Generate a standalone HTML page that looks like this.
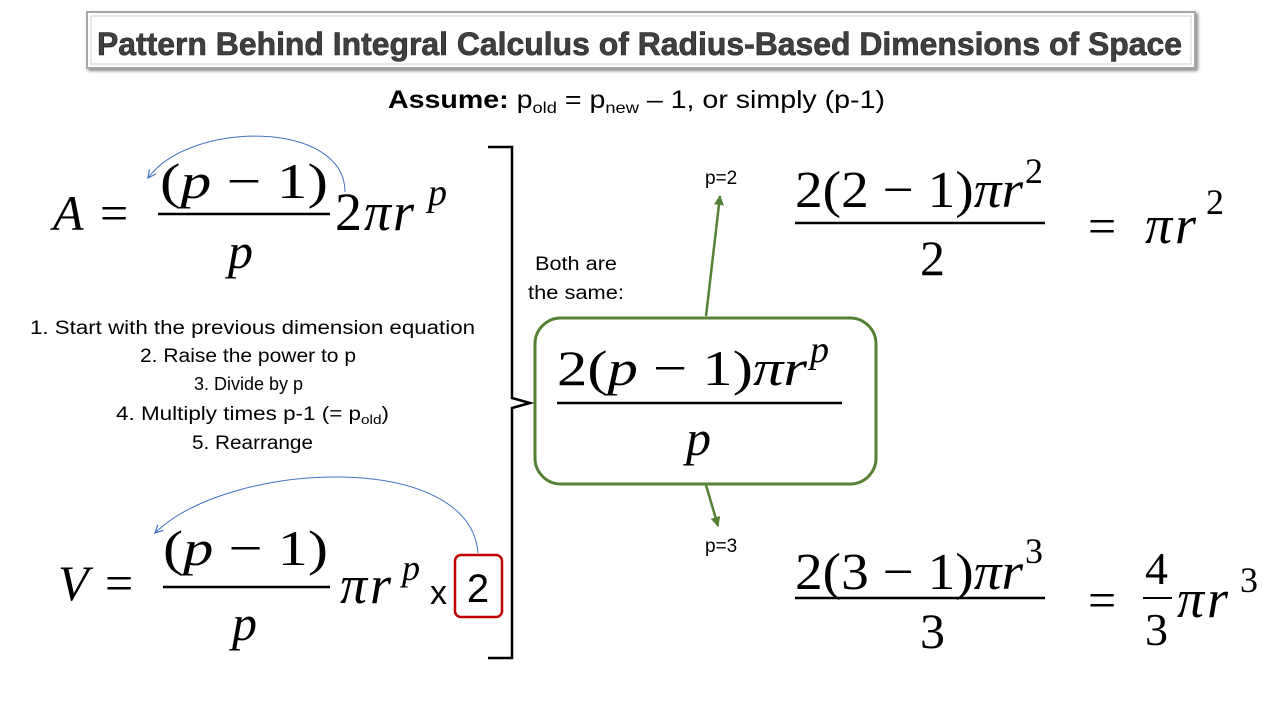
<!DOCTYPE html>
<html><head><meta charset="utf-8"><style>
html,body{margin:0;padding:0;background:#fff;}
svg{display:block;}
.m{font-family:"Liberation Serif",serif;fill:#000;}
.i{font-style:italic;}
.s{font-family:"Liberation Sans",sans-serif;fill:#000;}
</style></head><body>
<svg width="1280" height="720" viewBox="0 0 1280 720" xmlns="http://www.w3.org/2000/svg">
<defs>
<marker id="ab" markerWidth="10" markerHeight="10" refX="8" refY="5" orient="auto" markerUnits="userSpaceOnUse"><path d="M0,1 L8,5 L0,9" fill="none" stroke="#4472C4" stroke-width="1.2"/></marker>
<marker id="ag" markerWidth="12" markerHeight="12" refX="9" refY="6" orient="auto" markerUnits="userSpaceOnUse"><path d="M0,1 L10,6 L0,11 Z" fill="#548235"/></marker>
<filter id="sh"><feDropShadow dx="2" dy="2" stdDeviation="1.5" flood-color="#888"/></filter>
</defs>
<!-- title -->
<rect x="87" y="12" width="1108" height="56" fill="#fff" stroke="#a6a6a6" stroke-width="2" filter="url(#sh)"/>
<rect x="91" y="16" width="1100" height="48" fill="none" stroke="#d0d0d0" stroke-width="1"/>
<text x="97" y="55" class="s" font-size="32" font-weight="bold" style="fill:#404040" textLength="1085" lengthAdjust="spacingAndGlyphs" stroke="#222" stroke-width="0.6">Pattern Behind Integral Calculus of Radius-Based Dimensions of Space</text>
<!-- assume -->
<text x="388" y="108" class="s" font-size="25" textLength="497" lengthAdjust="spacingAndGlyphs"><tspan font-weight="bold">Assume:</tspan> p<tspan font-size="16" dy="5">old</tspan><tspan dy="-5"> = p</tspan><tspan font-size="16" dy="5">new</tspan><tspan dy="-5"> – 1, or simply (p-1)</tspan></text>

<!-- A equation -->
<text x="53" y="230" class="m i" font-size="50">A</text>
<text x="100" y="230" class="m" font-size="50">=</text>
<text x="160" y="198" class="m" font-size="50" textLength="168" lengthAdjust="spacingAndGlyphs">(<tspan class="i">p</tspan> − 1)</text>
<line x1="158" y1="214" x2="330" y2="214" stroke="#000" stroke-width="2.5"/>
<text x="228" y="268" class="m i" font-size="50">p</text>
<text x="335" y="230" class="m" font-size="54" letter-spacing="2">2<tspan class="i">πr</tspan></text>
<text x="428" y="205" class="m i" font-size="38">p</text>
<path d="M345,192 C345,120 190,120 148,178" fill="none" stroke="#4472C4" stroke-width="1" marker-end="url(#ab)"/>

<!-- steps -->
<g class="s" font-size="19">
<text x="30" y="334" textLength="445" lengthAdjust="spacingAndGlyphs">1. Start with the previous dimension equation</text>
<text x="140" y="362" textLength="216" lengthAdjust="spacingAndGlyphs">2. Raise the power to p</text>
<text x="194" y="390" font-size="18">3. Divide by p</text>
<text x="116" y="420" textLength="273" lengthAdjust="spacingAndGlyphs">4. Multiply times p-1 (= p<tspan font-size="13" dy="4">old</tspan><tspan dy="-4">)</tspan></text>
<text x="192" y="449" textLength="121" lengthAdjust="spacingAndGlyphs">5. Rearrange</text>
</g>

<!-- V equation -->
<text x="58" y="600" class="m i" font-size="50">V</text>
<text x="105" y="600" class="m" font-size="50">=</text>
<text x="163" y="565" class="m" font-size="50" textLength="165" lengthAdjust="spacingAndGlyphs">(<tspan class="i">p</tspan> − 1)</text>
<line x1="163" y1="587" x2="330" y2="587" stroke="#000" stroke-width="2.5"/>
<text x="232" y="640" class="m i" font-size="50">p</text>
<text x="340" y="603" class="m i" font-size="54" letter-spacing="3">πr</text>
<text x="402" y="580" class="m i" font-size="36">p</text>
<text x="430" y="604" class="s" font-size="34">x</text>
<rect x="455" y="555" width="47" height="62" rx="6" fill="none" stroke="#C00000" stroke-width="2.5"/>
<text x="478" y="602" class="s" font-size="40" text-anchor="middle">2</text>
<path d="M478,553 C470,450 230,460 155,533" fill="none" stroke="#4472C4" stroke-width="1" marker-end="url(#ab)"/>

<!-- bracket -->
<path d="M488,147 L512,147 L512,398 L530,403 L512,408 L512,658 L488,658" fill="none" stroke="#000" stroke-width="2.5"/>

<text x="535" y="270" class="s" font-size="19" textLength="82" lengthAdjust="spacingAndGlyphs">Both are</text>
<text x="528" y="299" class="s" font-size="19" textLength="96" lengthAdjust="spacingAndGlyphs">the same:</text>

<!-- green box -->
<rect x="535" y="318" width="341" height="166" rx="26" fill="#fff" stroke="#548235" stroke-width="3"/>
<text x="557" y="385" class="m" font-size="50" textLength="250" lengthAdjust="spacingAndGlyphs">2(<tspan class="i">p</tspan> − 1)<tspan class="i">πr</tspan></text>
<text x="810" y="362" class="m i" font-size="38">p</text>
<line x1="557" y1="403" x2="842" y2="403" stroke="#000" stroke-width="2.5"/>
<text x="686" y="455" class="m i" font-size="50">p</text>

<line x1="706" y1="316" x2="720" y2="196" stroke="#548235" stroke-width="2.5" marker-end="url(#ag)"/>
<line x1="706" y1="485" x2="718" y2="526" stroke="#548235" stroke-width="2.5" marker-end="url(#ag)"/>
<text x="705" y="184" class="s" font-size="19">p=2</text>
<text x="705" y="552" class="s" font-size="19">p=3</text>

<!-- top right -->
<text x="795" y="207" class="m" font-size="52" textLength="228" lengthAdjust="spacingAndGlyphs">2(2 − 1)<tspan class="i">πr</tspan></text>
<text x="1025" y="183" class="m" font-size="36">2</text>
<line x1="795" y1="223" x2="1045" y2="223" stroke="#000" stroke-width="2.5"/>
<text x="920" y="275" class="m" font-size="50">2</text>
<text x="1088" y="243" class="m" font-size="50">=</text>
<text x="1145" y="243" class="m i" font-size="54" letter-spacing="3">πr</text>
<text x="1206" y="214" class="m" font-size="36">2</text>

<!-- bottom right -->
<text x="795" y="589" class="m" font-size="52" textLength="228" lengthAdjust="spacingAndGlyphs">2(3 − 1)<tspan class="i">πr</tspan></text>
<text x="1025" y="563" class="m" font-size="36">3</text>
<line x1="795" y1="598" x2="1045" y2="598" stroke="#000" stroke-width="2.5"/>
<text x="920" y="648" class="m" font-size="50">3</text>
<text x="1088" y="617" class="m" font-size="50">=</text>
<text x="1145" y="584" class="m" font-size="46">4</text>
<line x1="1143" y1="598" x2="1172" y2="598" stroke="#000" stroke-width="2"/>
<text x="1145" y="645" class="m" font-size="46">3</text>
<text x="1177" y="617" class="m i" font-size="54" letter-spacing="3">πr</text>
<text x="1240" y="592" class="m" font-size="36">3</text>
</svg>
</body></html>
